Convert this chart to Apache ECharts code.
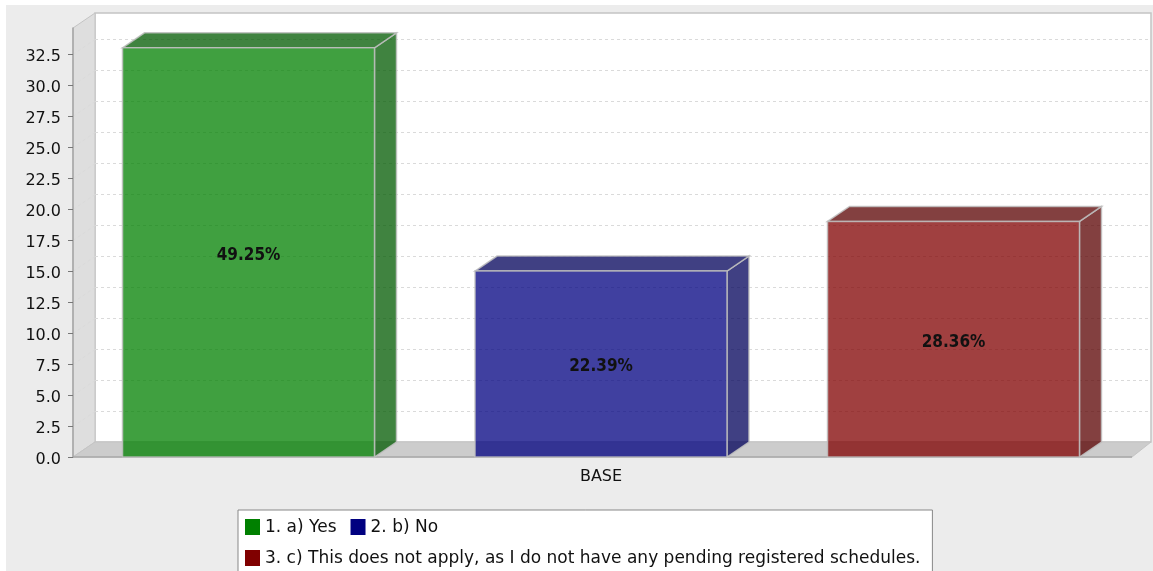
<!DOCTYPE html>
<html>
<head>
<meta charset="utf-8">
<style>
  html, body { margin: 0; padding: 0; background: #fff; overflow: hidden; }
  #chart { position: absolute; left: 6px; top: 5px; width: 1147px; height: 566px; background: #ececec; }
</style>
<script src="https://cdn.jsdelivr.net/npm/echarts@6/dist/echarts.min.js"></script>
</head>
<body>
<div id="chart"></div>
<script>
const categories = ['BASE'];
const seriesNames = [
  '1. a) Yes',
  '2. b) No',
  '3. c) This does not apply, as I do not have any pending registered schedules.'
];
const responseCounts = [33, 15, 19];
const yTicks = [0, 2.5, 5, 7.5, 10, 12.5, 15, 17.5, 20, 22.5, 25, 27.5, 30, 32.5];
const yMax = 34.6;

const frontColors = ['rgba(0,128,0,0.75)', 'rgba(0,0,128,0.75)', 'rgba(128,0,0,0.75)'];
const sideColors = ['rgba(0,89,0,0.75)', 'rgba(0,0,89,0.75)', 'rgba(89,0,0,0.75)'];
const legendColors = ['#008000', '#000080', '#800000'];

const FONT = '"DejaVu Sans", sans-serif';
const LABEL_FONT = '"DejaVu Sans Condensed", "DejaVu Sans", sans-serif';
const DX = 22, DY = 15;          // depth of the extruded plot
const EDGE = 'rgba(192,192,192,0.85)';
const total = responseCounts.reduce((a, b) => a + b, 0);

const chart = echarts.init(document.getElementById('chart'), null, { renderer: 'canvas' });

// Back wall, side wall and floor of the 3D plot
function renderRoom(params, api) {
  const cs = params.coordSys;
  const l = cs.x, t = cs.y, b = cs.y + cs.height, r = cs.x + cs.width + 3;
  const backRight = r + 19;
  return {
    type: 'group',
    children: [
      { type: 'rect', shape: { x: l + DX, y: t - DY, width: backRight - l - DX, height: b - t },
        style: { fill: '#fff', stroke: '#c4c4c4', lineWidth: 1.5 } },
      { type: 'polygon', shape: { points: [[l, t], [l + DX, t - DY], [l + DX, b - DY], [l, b]] },
        style: { fill: '#dedede', stroke: '#c4c4c4', lineWidth: 1 } },
      { type: 'polygon', shape: { points: [[l, b], [l + DX, b - DY], [backRight, b - DY], [r, b]] },
        style: { fill: '#cccccc', stroke: '#c4c4c4', lineWidth: 1 } },
      { type: 'line', shape: { x1: l, y1: b, x2: r, y2: b },
        style: { stroke: '#a8a8a8', lineWidth: 1.5 } }
    ]
  };
}

// One dashed gridline per tick, across the side wall and the back wall
function renderGridline(params, api) {
  const cs = params.coordSys;
  const y = Math.round(api.coord([0, api.value(0)])[1]) + 0.5;
  const l = cs.x, r = cs.x + cs.width + 22;
  const style = { stroke: '#dadada', lineWidth: 1, lineDash: [3, 3] };
  if (api.value(0) === 0) return { type: 'group', children: [] };
  return {
    type: 'group',
    children: [
      { type: 'line', shape: { x1: l, y1: y, x2: l + DX, y2: y - DY }, style },
      { type: 'line', shape: { x1: l + DX, y1: y - DY, x2: r, y2: y - DY }, style }
    ]
  };
}

// Tick marks on the left of the value axis
function renderTick(params, api) {
  const y = Math.round(api.coord([0, api.value(0)])[1]) + 0.5;
  const l = params.coordSys.x;
  return { type: 'line', shape: { x1: l - 5, y1: y, x2: l, y2: y },
    style: { stroke: '#777', lineWidth: 1 } };
}

// A translucent extruded bar: front face, side, top and the centred share label
function barRenderer(i) {
  return function (params, api) {
    const band = api.size([1, 0])[0];
    const c = api.coord([api.value(0), 0])[0];
    const w = band * 0.2386;
    const step = band * 0.3338;
    const x = c + (i - 1) * step - w / 2;
    const v = api.value(1);
    const yTop = api.coord([0, v])[1];
    const y0 = api.coord([0, 0])[1];
    const edge = { stroke: EDGE, lineWidth: 1.5 };
    const share = (v / total * 100).toFixed(2) + '%';
    return {
      type: 'group',
      children: [
        { type: 'polygon',
          shape: { points: [[x + w, yTop], [x + w + DX, yTop - DY], [x + w + DX, y0 - DY], [x + w, y0]] },
          style: { fill: sideColors[i], ...edge } },
        { type: 'polygon',
          shape: { points: [[x, yTop], [x + DX, yTop - DY], [x + w + DX, yTop - DY], [x + w, yTop]] },
          style: { fill: sideColors[i], ...edge } },
        { type: 'rect', shape: { x, y: yTop, width: w, height: y0 - yTop },
          style: { fill: frontColors[i], ...edge } },
        { type: 'text', x: x + w / 2, y: (yTop + y0) / 2 + 3,
          style: { text: share, fill: '#111', font: 'bold 17px ' + LABEL_FONT, align: 'center', verticalAlign: 'middle' } }
      ]
    };
  };
}

const barSeries = seriesNames.map((name, i) => ({
  name,
  type: 'custom',
  z: 5,
  renderItem: barRenderer(i),
  encode: { x: 0, y: 1 },
  itemStyle: { color: legendColors[i] },
  data: [[0, responseCounts[i]]]
}));

chart.setOption({
  animation: false,
  backgroundColor: '#ececec',
  grid: { left: 67, top: 23, right: 24, bottom: 114 },
  legend: {
    data: seriesNames.map(name => ({ name, icon: 'rect' })),
    left: 232, top: 505,
    width: 694,
    padding: [9, 12, 8, 7],
    itemWidth: 15, itemHeight: 16, itemGap: 14,
    backgroundColor: '#fff',
    borderColor: '#888', borderWidth: 1,
    formatter: name => '{entry|' + name + '}',
    textStyle: {
      rich: { entry: { fontFamily: FONT, fontSize: 17, color: '#111', padding: [1, 0, 0, 0] } }
    }
  },
  xAxis: {
    type: 'category',
    data: categories,
    axisLine: { show: false },
    axisTick: { show: false },
    axisLabel: { color: '#111', fontFamily: FONT, fontSize: 16, margin: 12 }
  },
  yAxis: {
    type: 'value',
    min: 0, max: yMax,
    z: 3,
    splitLine: { show: false },
    axisLine: { show: true, lineStyle: { color: '#a4a4a4', width: 1.5 } },
    axisTick: { show: false },
    axisLabel: { color: '#111', margin: 12, customValues: yTicks,
      formatter: v => '{tick|' + v.toFixed(1) + '}',
      rich: { tick: { fontFamily: FONT, fontSize: 16, color: '#111', padding: [5, 0, 0, 0] } } }
  },
  series: [
    { type: 'custom', name: 'room', z: 1, silent: true, renderItem: renderRoom, data: [[0]], encode: { y: 0 } },
    { type: 'custom', name: 'grid', z: 2, silent: true, renderItem: renderGridline,
      data: yTicks.map(v => [v]), encode: { y: 0 } },
    { type: 'custom', name: 'ticks', z: 4, silent: true, renderItem: renderTick,
      data: yTicks.map(v => [v]), encode: { y: 0 } },
    ...barSeries
  ]
});
</script>
</body>
</html>
